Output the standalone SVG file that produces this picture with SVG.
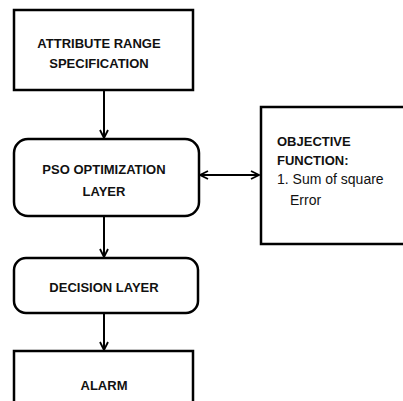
<svg xmlns="http://www.w3.org/2000/svg" width="403" height="401" viewBox="0 0 403 401">
<style>
.box{fill:#fff;stroke:#000;stroke-width:2.5}
.t{font-family:"Liberation Sans",Arial,sans-serif;font-weight:bold;font-size:13px;fill:#111;text-anchor:middle}
.n{font-family:"Liberation Sans",Arial,sans-serif;font-size:14px;fill:#111}
.c{fill:none;stroke:#000;stroke-width:2}
</style>
<defs>
<marker id="ah" viewBox="0 0 10 10" refX="9" refY="5" markerWidth="10" markerHeight="10" markerUnits="userSpaceOnUse" orient="auto-start-reverse">
<polyline points="1,1 9,5 1,9" fill="none" stroke="#000" stroke-width="1.8"/>
</marker>
</defs>
<rect width="403" height="401" fill="#fff"/>
<g id="connectors">
<line class="c" x1="104" y1="90" x2="104" y2="138" marker-end="url(#ah)"/>
<line class="c" x1="104" y1="216" x2="104" y2="257" marker-end="url(#ah)"/>
<line class="c" x1="104" y1="313" x2="104" y2="350" marker-end="url(#ah)"/>
<line class="c" x1="200" y1="175" x2="259" y2="175" marker-start="url(#ah)" marker-end="url(#ah)"/>
</g>
<g id="attr">
<rect class="box" x="14" y="10" width="179" height="80"/>
<text class="t" x="99" y="48">ATTRIBUTE RANGE</text>
<text class="t" x="99" y="68">SPECIFICATION</text>
</g>
<g id="pso">
<rect class="box" x="14" y="139" width="185" height="77" rx="14"/>
<text class="t" x="104" y="174">PSO OPTIMIZATION</text>
<text class="t" x="104" y="196">LAYER</text>
</g>
<g id="objective">
<path d="M405,107 H261 V244 H405" fill="#fff" stroke="#000" stroke-width="2.5"/>
<text class="t" x="277" y="146" style="text-anchor:start">OBJECTIVE</text>
<text class="t" x="277" y="165" style="text-anchor:start">FUNCTION:</text>
<text class="n" x="277" y="184">1. Sum of square</text>
<text class="n" x="290" y="205">Error</text>
</g>
<g id="decision">
<rect class="box" x="14" y="258" width="184" height="55" rx="12"/>
<text class="t" x="104" y="292">DECISION LAYER</text>
</g>
<g id="alarm">
<rect class="box" x="14" y="351" width="179" height="60"/>
<text class="t" x="104" y="390">ALARM</text>
</g>
</svg>
